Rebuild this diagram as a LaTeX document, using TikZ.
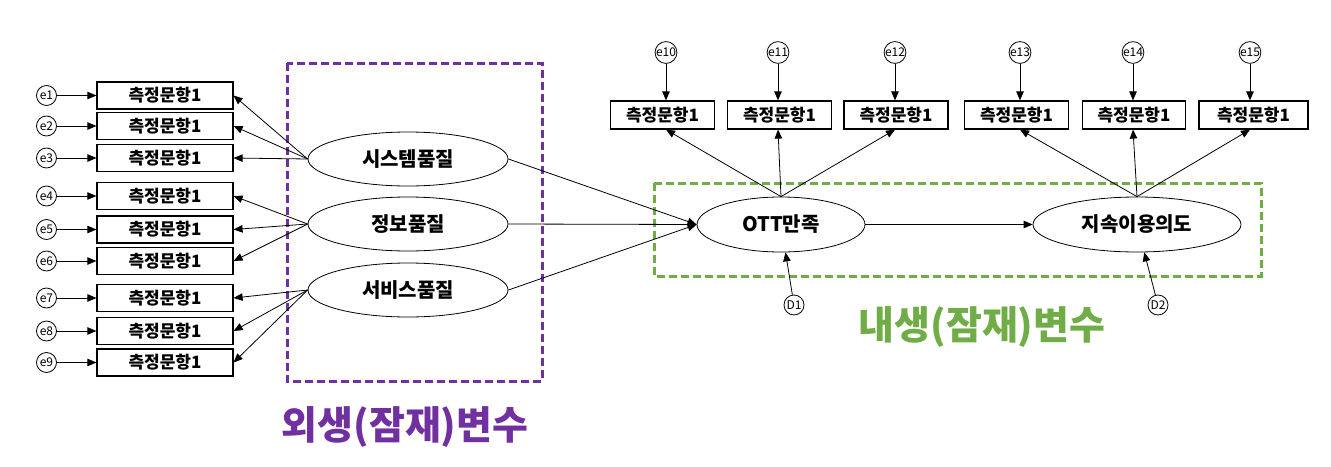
\documentclass[tikz,border=0pt]{standalone}
\usepackage{fontspec}
\setmainfont{Noto Sans CJK KR}
\usetikzlibrary{shapes.geometric,arrows.meta}
\definecolor{exo}{HTML}{7030A0}
\definecolor{endo}{HTML}{70AD47}
\begin{document}
\begin{tikzpicture}[x=1pt,y=-1pt,
  item/.style={draw, line width=1.2pt, minimum width=136pt, minimum height=27pt, inner sep=0pt, font=\fontsize{17}{17}\selectfont\bfseries},
  err/.style={circle, draw, line width=0.8pt, minimum size=20pt, inner sep=0pt, font=\fontsize{12}{12}\selectfont},
  lat/.style={ellipse, draw, line width=0.8pt, minimum width=200pt, minimum height=54pt, inner sep=0pt, font=\fontsize{20}{20}\selectfont\bfseries},
  arr/.style={-{Triangle[length=9pt,width=7.5pt]}, line width=0.8pt},
  region/.style={line width=3pt, dash pattern=on 8pt off 4pt},
  biglabel/.style={font=\fontsize{39}{39}\selectfont\bfseries, inner sep=0pt}
]
\useasboundingbox (0,0) rectangle (1331,466);

% regions
\draw[region, exo] (287,63) rectangle (542,381);
\draw[region, endo] (654,183) rectangle (1261,276);

% exogenous indicators
\foreach \i/\y in {1/95.5,2/126,3/158,4/196,5/229.5,6/261,7/298,8/331,9/362.5}{
  \node[item] (m\i) at (165,\y) {측정문항1};
  \node[err] (e\i) at (46.5,\y) {e\i};
  \draw[arr] (e\i) -- (m\i);
}

% exogenous latents
\node[lat] (sq) at (408,159) {시스템품질};
\node[lat] (iq) at (408,224) {정보품질};
\node[lat] (vq) at (408,290) {서비스품질};
\foreach \i in {1,2,3}{\draw[arr] (sq.west) -- (m\i.east);}
\foreach \i in {4,5,6}{\draw[arr] (iq.west) -- (m\i.east);}
\foreach \i in {7,8,9}{\draw[arr] (vq.west) -- (m\i.east);}

% endogenous latents
\node[lat, minimum width=168pt, minimum height=55pt] (ott) at (781,224.5) {OTT만족};
\node[lat, minimum width=208pt, minimum height=55pt] (cu) at (1137,224.5) {지속이용의도};

\draw[arr] (sq.east) -- (ott.west);
\draw[arr] (iq.east) -- (ott.west);
\draw[arr] (vq.east) -- (ott.west);
\draw[arr] (ott.east) -- (cu.west);

% disturbances
\node[err] (d1) at (794,305) {D1};
\node[err] (d2) at (1158,305) {D2};
\draw[arr] (d1) -- (ott);
\draw[arr] (d2) -- (cu);

% endogenous indicators
\foreach \i/\bx/\ex/\w in {10/662.5/666/104,11/779.5/778/104,12/896/895/104,13/1016.5/1020/104,14/1134/1133/103,15/1253.5/1250/109}{
  \node[item, minimum width=\w pt, minimum height=28pt] (t\i) at (\bx,115) {측정문항1};
  \node[err, minimum size=19pt] (e\i) at (\ex,52.5) {e\i};
  \draw[arr] (e\i) -- (e\i |- t\i.north);
}
\foreach \i in {10,11,12}{\draw[arr] (ott.north) -- (e\i |- t\i.south);}
\foreach \i in {13,14,15}{\draw[arr] (cu.north) -- (e\i |- t\i.south);}

% region labels
\node[biglabel, text=exo] (exolabel) at (405,427) {외생(잠재)변수};
\node[biglabel, text=endo] (endolabel) at (982,327) {내생(잠재)변수};
\end{tikzpicture}
\end{document}
